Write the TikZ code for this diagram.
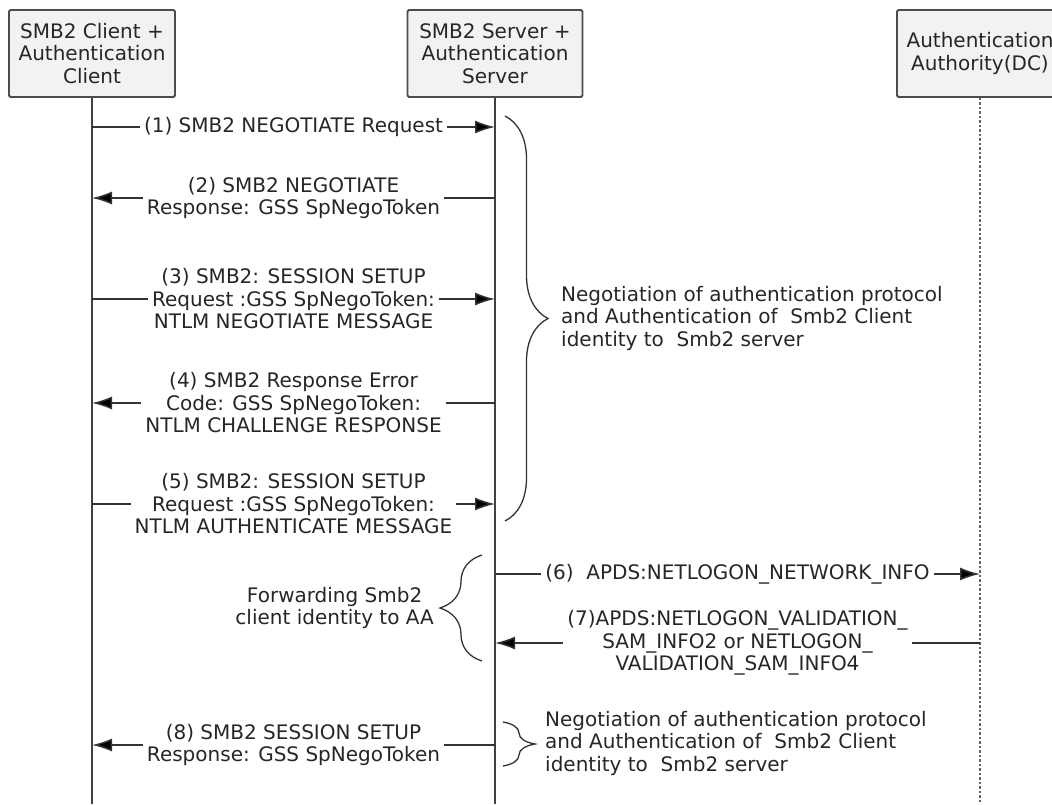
\documentclass[tikz,border=0pt]{standalone}
\usepackage{fontspec}
\setmainfont{DejaVu Sans}
\usetikzlibrary{arrows.meta,decorations.pathreplacing}
\newcommand\msgfont{\fontsize{20}{22.5}\selectfont}

\begin{document}
\begin{tikzpicture}[x=1pt,y=-1pt]
        % Define styles
        \tikzset{
            actor/.style={rectangle, draw=black!70, line width=1.8pt, fill=black!5, rounded corners=1.5pt, minimum height=87pt, align=center, text=black!85, font=\msgfont},
            lifeline/.style={draw=black!75, line width=1.5pt},
            dc_lifeline/.style={draw=black!60, line width=2.5pt, dotted},
            arrow/.style={-{Latex[length=20pt,width=13pt,fill=black]}, draw=black!80, line width=1.5pt},
            msg/.style={fill=white, align=center, text=black!85, inner xsep=4pt, inner ysep=1pt, font=\msgfont},
            note/.style={text=black!85, font=\msgfont, inner sep=0pt},
            curly/.style={decorate, decoration={brace, amplitude=#1}, draw=black!80, line width=1.3pt}
        }
        \useasboundingbox (0,0) rectangle (1052,804);
        \clip (0,0) rectangle (1052,804);

        % Nodes
        \node[actor, minimum width=166pt] (client_box) at (92,53.5) {SMB2 Client +\\Authentication\\Client};
        \node[actor, minimum width=175pt] (server_box) at (495,53.5) {SMB2 Server +\\Authentication\\Server};
        \node[actor, minimum width=166pt] (authority_box) at (980,53.5) {Authentication\\Authority(DC)};

        % Lifelines
        \coordinate (client_end) at (92,804);
        \coordinate (server_end) at (495,804);
        \coordinate (authority_end) at (980,804);
        \draw[lifeline] (client_box.south) -- (client_end);
        \draw[lifeline] (server_box.south) -- (server_end);
        \draw[dc_lifeline] (authority_box.south) -- (authority_end);

        % Message points
        \foreach \n/\y in {1/127, 2/198, 3/299, 4/403, 5/504, 6/574, 7/643, 8/745} {
            \coordinate (client_\n) at (92,\y);
            \coordinate (server_\n) at (495,\y);
            \coordinate (authority_\n) at (980,\y);
        }

        % Arrows
        \draw[arrow] (client_1) -- (server_1) node[msg, midway] (msg_1) {(1) SMB2 NEGOTIATE Request};
        \draw[arrow] (server_2) -- (client_2) node[msg, midway] (msg_2) {(2) SMB2 NEGOTIATE\\Response: GSS SpNegoToken};
        \draw[arrow] (client_3) -- (server_3) node[msg, midway] (msg_3) {(3) SMB2: SESSION SETUP\\Request :GSS SpNegoToken:\\NTLM NEGOTIATE MESSAGE};
        \draw[arrow] (server_4) -- (client_4) node[msg, midway] (msg_4) {(4) SMB2 Response Error\\Code: GSS SpNegoToken:\\NTLM CHALLENGE RESPONSE};
        \draw[arrow] (client_5) -- (server_5) node[msg, midway] (msg_5) {(5) SMB2: SESSION SETUP\\Request :GSS SpNegoToken:\\NTLM AUTHENTICATE MESSAGE};
        \draw[arrow] (server_6) -- (authority_6) node[msg, midway] (msg_6) {(6)~ APDS:NETLOGON\_NETWORK\_INFO};
        \draw[arrow] (authority_7) -- (server_7) node[msg, midway] (msg_7) {(7)APDS:NETLOGON\_VALIDATION\_\\SAM\_INFO2 or NETLOGON\_\\VALIDATION\_SAM\_INFO4};
        \draw[arrow] (server_8) -- (client_8) node[msg, midway] (msg_8) {(8) SMB2 SESSION SETUP\\Response: GSS SpNegoToken};

        % Braces
        \coordinate (nego_top) at (505,116);
        \coordinate (nego_bottom) at (505,521);
        \coordinate (fwd_top) at (482,555);
        \coordinate (fwd_bottom) at (482,661);
        \coordinate (setup_top) at (503,722);
        \coordinate (setup_bottom) at (503,766);
        \draw[curly=43pt] (nego_top) -- (nego_bottom);
        \draw[curly=42pt] (fwd_bottom) -- (fwd_top);
        \draw[curly=32pt] (setup_top) -- (setup_bottom);

        % Notes
        \node[note, align=left, anchor=west] (nego_note) at (561,318) {Negotiation of authentication protocol\\and Authentication of~ Smb2 Client\\identity to~ Smb2 server};
        \node[note, align=center, anchor=east] (fwd_note) at (434,608) {Forwarding Smb2\\client identity to AA};
        \node[note, align=left, anchor=west] (setup_note) at (545,743) {Negotiation of authentication protocol\\and Authentication of~ Smb2 Client\\identity to~ Smb2 server};
\end{tikzpicture}
\end{document}
